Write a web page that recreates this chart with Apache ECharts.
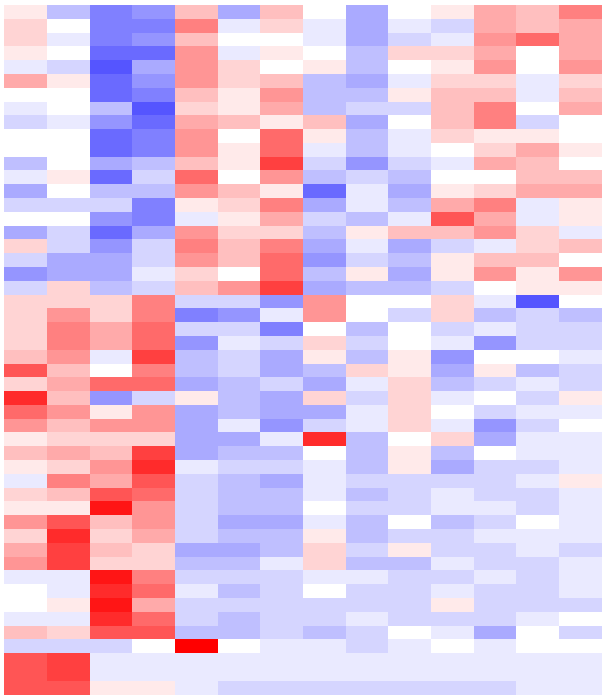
<!DOCTYPE html>
<html>
<head>
<meta charset="utf-8">
<style>html,body{margin:0;padding:0;background:#fff}#c{width:605px;height:699px}</style>
<script src="https://cdn.jsdelivr.net/npm/echarts@6/dist/echarts.min.js"></script>
</head>
<body>
<div id="c"></div>
<script>
const r00=[1,-3,-6,-5,3,-4,3,0,-4,0,1,4,3,6];
const r01=[2,0,-6,-6,6,-1,2,-1,-4,-1,-2,4,3,4];
const r02=[2,-1,-6,-5,3,0,0,-1,-4,-2,-1,5,7,4];
const r03=[1,0,-7,-7,5,-1,1,0,-3,2,2,4,0,4];
const r04=[-1,-2,-8,-4,5,2,0,1,-3,0,1,5,0,5];
const r05=[4,1,-7,-5,5,2,3,-3,-4,-1,2,2,-1,2];
const r06=[0,0,-7,-6,3,1,5,-3,-3,1,3,3,-1,3];
const r07=[-1,0,-3,-8,2,1,4,-3,-2,-2,3,6,0,4];
const r08=[-2,-1,-5,-7,4,3,1,3,-4,0,3,6,-2,0];
const r09=[0,0,-7,-6,5,0,7,1,-3,-1,2,1,1,0];
const r10=[0,0,-7,-6,5,1,7,-1,-3,-1,0,2,4,1];
const r11=[-3,0,-4,-3,3,1,9,-2,-5,-2,-1,4,3,0];
const r12=[-1,1,-7,-2,7,0,5,-3,-2,-3,0,0,3,3];
const r13=[-4,0,-3,-3,5,3,1,-7,-1,-4,1,2,4,4];
const r14=[-2,-2,-2,-6,1,2,6,-4,-1,-3,4,6,-1,1];
const r15=[0,0,-5,-6,-1,1,4,-2,-3,-1,8,4,-1,1];
const r16=[-4,-2,-7,-4,5,2,2,-3,1,3,3,5,2,-1];
const r17=[2,-2,-5,-2,6,3,6,-4,-1,-4,-2,-1,2,3];
const r18=[-2,-4,-4,-2,5,3,7,-5,-2,-3,1,3,3,0];
const r19=[-5,-4,-4,-1,2,0,7,-3,1,-4,1,5,1,5];
const r20=[-2,2,-3,-2,3,5,9,-4,-3,-3,-2,0,1,1];
const r21=[2,2,2,6,-2,-2,-5,5,0,0,2,-1,-8,0];
const r22=[2,5,2,6,-6,-5,-1,5,0,-2,2,-3,-2,-3];
const r23=[2,6,4,7,-2,-2,-6,0,-3,0,-2,-1,-2,-2];
const r24=[2,6,4,7,-5,-1,-2,2,-2,0,-1,-5,-2,-2];
const r25=[3,5,-1,9,-3,-2,-4,1,-3,1,-5,0,0,-1];
const r26=[8,3,0,6,-3,-2,-4,-3,2,1,-4,1,-3,-2];
const r27=[2,4,7,7,-4,-3,-2,-4,-1,2,-3,-2,-1,-2];
const r28=[10,3,-5,-2,1,-3,-4,2,-2,2,-1,0,-2,1];
const r29=[7,5,1,5,-4,-3,-4,-4,-1,2,0,-2,-1,-1];
const r30=[5,3,5,5,-4,-1,-5,-2,-1,2,-1,-5,-2,0];
const r31=[1,2,2,2,-4,-4,-1,10,-3,0,2,-4,-1,-1];
const r32=[3,4,3,9,-4,-3,-3,0,-3,1,-3,0,-1,-1];
const r33=[1,2,5,10,-1,-2,-2,-1,-3,1,-4,-2,-2,-1];
const r34=[-1,6,4,8,-2,-3,-4,-1,-2,-2,-2,-2,-1,1];
const r35=[2,3,8,7,-2,-3,-3,-1,-3,-2,-1,-2,-2,-1];
const r36=[1,1,11,5,-2,-3,-3,0,-2,-2,-1,-1,-2,-1];
const r37=[5,8,3,5,-2,-4,-4,-1,-3,0,-3,-2,0,-1];
const r38=[2,10,2,4,-2,-3,-3,1,-3,-2,-2,-1,-1,-1];
const r39=[4,9,3,2,-4,-4,-3,2,-2,1,-2,-2,-1,-2];
const r40=[5,9,2,2,-3,-3,-1,2,-3,-3,-1,-2,-2,-1];
const r41=[-1,-1,11,6,-2,-2,-2,-1,-1,-2,-2,-1,-2,-1];
const r42=[0,-1,10,7,-1,-3,-2,0,-2,-2,-1,-2,-2,-1];
const r43=[0,1,11,4,-2,-2,-2,-2,-2,-2,1,-2,-2,-2];
const r44=[-1,-1,10,7,-2,-3,-2,-2,-1,-2,-2,-2,-1,0];
const r45=[3,2,8,8,-3,-3,-2,-3,-2,0,-1,-4,0,-2];
const r46=[-2,-2,-2,0,12,0,-1,-1,-2,-1,0,-1,0,0];
const r47=[8,9,-1,-1,-1,-1,-1,-1,-1,-1,-1,-1,-1,-1];
const r48=[8,9,-1,-1,-1,-1,-1,-1,-1,-1,-1,-1,-1,-1];
const r49=[8,8,1,1,-1,-2,-2,-2,-2,-2,-2,-2,-1,-1];
const rows=[r00,r01,r02,r03,r04,r05,r06,r07,r08,r09,r10,r11,r12,r13,r14,r15,r16,r17,r18,r19,r20,r21,r22,r23,r24,r25,r26,r27,r28,r29,r30,r31,r32,r33,r34,r35,r36,r37,r38,r39,r40,r41,r42,r43,r44,r45,r46,r47,r48,r49];
const columnNames=r00.map((_,i)=>'C'+(i+1));
const rowNames=rows.map((_,i)=>'R'+(i+1));
const cells=[];
rows.forEach((row,y)=>row.forEach((v,x)=>cells.push([x,y,v])));
const chart=echarts.init(document.getElementById('c'),null,{renderer:'canvas'});
chart.setOption({
  animation:false,
  backgroundColor:'#ffffff',
  grid:{left:4.33,top:5,width:597.33,height:689.5,containLabel:false},
  xAxis:{type:'category',data:columnNames,show:false,splitArea:{show:false}},
  yAxis:{type:'category',data:rowNames,show:false,inverse:true,splitArea:{show:false}},
  visualMap:{show:false,type:'continuous',min:-12,max:12,dimension:2,seriesIndex:0,
    inRange:{color:['#0000ff','#ffffff','#ff0000']}},
  series:[{type:'custom',data:cells,encode:{x:0,y:1},silent:true,
    renderItem:function(params,api){
      const c=api.coord([api.value(0),api.value(1)]);
      const s=api.size([1,1]);
      const x0=Math.round(c[0]-s[0]/2), x1=Math.round(c[0]+s[0]/2);
      const y0=Math.round(c[1]-s[1]/2), y1=Math.round(c[1]+s[1]/2);
      return {type:'rect',shape:{x:x0,y:y0,width:x1-x0,height:y1-y0},
        style:{fill:api.visual('color'),stroke:null}};
    }}]
});
</script>
</body>
</html>
